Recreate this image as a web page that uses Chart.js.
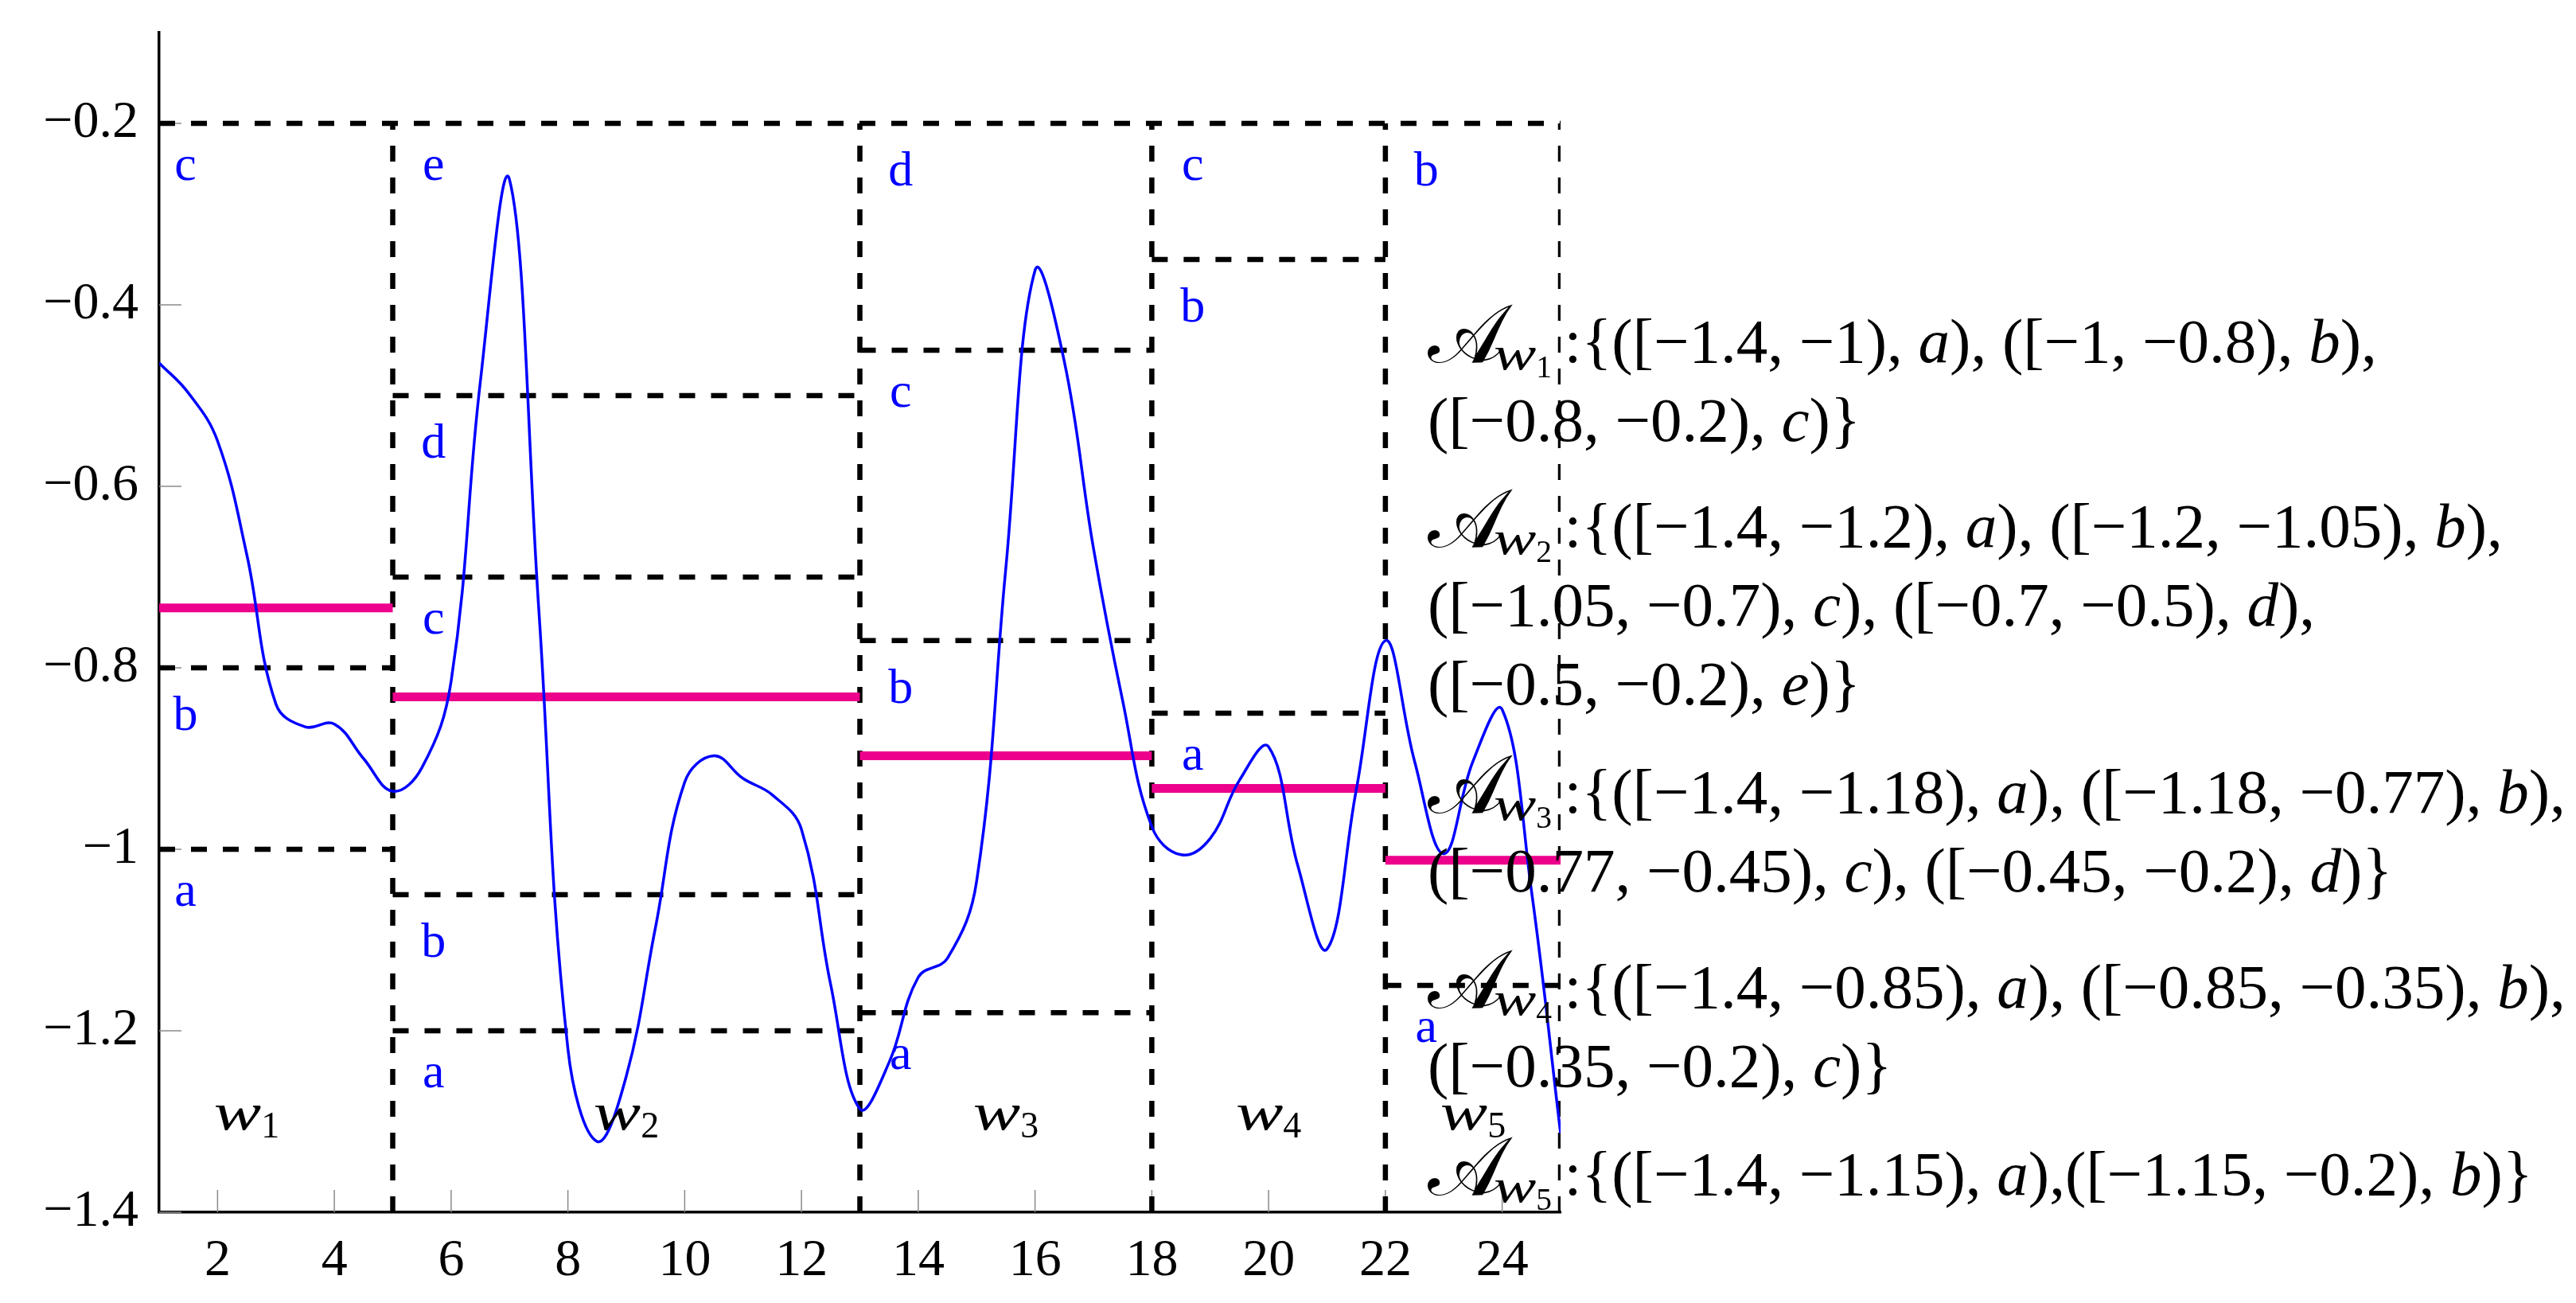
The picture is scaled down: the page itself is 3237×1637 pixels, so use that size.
<!DOCTYPE html>
<html>
<head>
<meta charset="utf-8">
<script src="https://cdn.jsdelivr.net/npm/chart.js"></script>
<style>
  html, body { margin: 0; padding: 0; background: #fff; }
</style>
</head>
<body>
<canvas id="grafica" width="3237" height="1637"></canvas>
<script>
// serie temporal (leida cada medio paso)
const tiempos = [1, 1.5, 2, 2.5, 3, 3.5, 4, 4.5, 5, 5.5, 6, 6.5, 7, 7.5, 8, 8.5, 9, 9.5, 10, 10.5, 11, 11.5, 12, 12.5,
    13, 13.5, 14, 14.5, 15, 15.5, 16, 16.5, 17, 17.5, 18, 18.5, 19, 19.5, 20, 20.5, 21, 21.5, 22, 22.5, 23, 23.5, 24, 24.5, 25]
const valores = [-0.464, -0.497, -0.550, -0.675, -0.840, -0.865, -0.862, -0.900, -0.936, -0.910, -0.815, -0.485, -0.262,
    -0.734, -1.220, -1.322, -1.250, -1.086, -0.926, -0.897, -0.922, -0.940, -0.978, -1.149, -1.286, -1.235, -1.141, -1.120,
    -1.035, -0.690, -0.362, -0.462, -0.668, -0.836, -0.975, -1.006, -0.988, -0.924, -0.887, -1.018, -1.110, -0.935, -0.770,
    -0.903, -1.005, -0.903, -0.846, -1.045, -1.313]

// ventanas, medias (PAA) y cortes de cada alfabeto
const bordes = [1, 5, 13, 18, 22, 25]
const medias = [-0.734, -0.832, -0.897, -0.933, -1.012]
const cortes = [[-1, -0.8], [-1.2, -1.05, -0.7, -0.5], [-1.18, -0.77, -0.45], [-0.85, -0.35], [-1.15]]
const simbolos = [["a", "b", "c"], ["a", "b", "c", "d", "e"], ["a", "b", "c", "d"], ["a", "b", "c"], ["a", "b"]]
const limiteInf = -1.4
const limiteSup = -0.2
const simboloX = [1.45, 5.7, 13.7, 18.7, 22.7]
const ventanaX = [2.5, 9, 15.5, 20, 23.5]
const ventanaY = -1.3

const ticksX = [2, 4, 6, 8, 10, 12, 14, 16, 18, 20, 22, 24]
const ticksY = [-1.4, -1.2, -1, -0.8, -0.6, -0.4, -0.2]

const textoDerecha = [
    ["𝒜_1:{([−1.4, −1), *a*), ([−1, −0.8), *b*),", "([−0.8, −0.2), *c*)}"],
    ["𝒜_2:{([−1.4, −1.2), *a*), ([−1.2, −1.05), *b*),", "([−1.05, −0.7), *c*), ([−0.7, −0.5), *d*),", "([−0.5, −0.2), *e*)}"],
    ["𝒜_3:{([−1.4, −1.18), *a*), ([−1.18, −0.77), *b*),", "([−0.77, −0.45), *c*), ([−0.45, −0.2), *d*)}"],
    ["𝒜_4:{([−1.4, −0.85), *a*), ([−0.85, −0.35), *b*),", "([−0.35, −0.2), *c*)}"],
    ["𝒜_5:{([−1.4, −1.15), *a*),([−1.15, −0.2), *b*)}"]
]
const baseGrupos = [414, 646, 980, 1225, 1460]

const fuente = '"Liberation Serif", "DejaVu Serif", serif'

// puntos de la curva
const puntosCurva = tiempos.map((t, i) => ({ x: t, y: valores[i] }))

// segmentos de la media por ventana
const puntosMedia = []
medias.forEach((m, i) => {
    puntosMedia.push({ x: bordes[i], y: m }, { x: bordes[i + 1], y: m }, { x: bordes[i + 1], y: null })
})

// rejilla discontinua de cada ventana
const puntosRejilla = [{ x: bordes[0], y: limiteSup }, { x: bordes[bordes.length - 1], y: limiteSup }, { x: 25, y: null }]
cortes.forEach((lista, i) => {
    lista.forEach(c => {
        puntosRejilla.push({ x: bordes[i], y: c }, { x: bordes[i + 1], y: c }, { x: bordes[i + 1], y: null })
    })
})
bordes.slice(1).forEach(b => {
    puntosRejilla.push({ x: b, y: limiteInf }, { x: b, y: limiteSup }, { x: b, y: null })
})

function menos(v) {
    return (v < 0 ? "−" : "") + Math.abs(v)
}

// w ancha, como la italica matematica del original
function dibujarW(ctx, x, base, size) {
    ctx.font = `italic ${size}px ${fuente}`
    const ancho = ctx.measureText("w").width * 1.35
    ctx.save()
    ctx.translate(x, base)
    ctx.scale(1.35, 1)
    ctx.fillText("w", 0, 0)
    ctx.restore()
    return ancho
}

function escribir(ctx, texto, x0, base, t) {
    let x = x0
    let italica = false
    const letras = Array.from(texto)
    for (let i = 0; i < letras.length; i++) {
        const c = letras[i]
        if (c === "*") { italica = !italica; continue }
        if (c === "𝒜") {
            ctx.font = `${t * 1.3}px ${fuente}`
            ctx.fillText("𝒜", x, base)
            continue
        }
        if (c === "_") {
            let xs = x0 + t * 1.05
            xs += dibujarW(ctx, xs, base + t * 0.12, t * 0.75)
            ctx.font = `${t * 0.5}px ${fuente}`
            ctx.fillText(letras[i + 1], xs, base + t * 0.24)
            x = x0 + t * 2.17
            i++
            continue
        }
        ctx.font = `${italica ? "italic " : ""}${t}px ${fuente}`
        ctx.fillText(c, x, base)
        x += ctx.measureText(c).width
    }
}

const anotaciones = {
    id: "anotaciones",
    beforeDatasetsDraw(chart) {
        const { ctx, chartArea, scales: { x, y } } = chart
        ctx.save()
        ctx.strokeStyle = "#8a8a8a"
        ctx.lineWidth = 1.5
        ctx.beginPath()
        ticksX.forEach(v => {
            const px = x.getPixelForValue(v)
            ctx.moveTo(px, chartArea.bottom)
            ctx.lineTo(px, chartArea.bottom - 28)
        })
        ticksY.forEach(v => {
            const py = y.getPixelForValue(v)
            ctx.moveTo(chartArea.left, py)
            ctx.lineTo(chartArea.left + 28, py)
        })
        ctx.stroke()
        ctx.restore()
    },
    afterDatasetsDraw(chart) {
        const { ctx, chartArea, scales: { x, y } } = chart
        ctx.save()

        // letras del alfabeto
        ctx.fillStyle = "#0000ff"
        ctx.textAlign = "center"
        ctx.textBaseline = "alphabetic"
        ctx.font = `62px ${fuente}`
        simbolos.forEach((lista, i) => {
            const limites = [limiteInf, ...cortes[i], limiteSup]
            lista.forEach((s, j) => {
                const m = ctx.measureText(s)
                const py = y.getPixelForValue(limites[j + 1] - 0.05)
                ctx.fillText(s, x.getPixelForValue(simboloX[i]), py + (m.actualBoundingBoxAscent - m.actualBoundingBoxDescent) / 2)
            })
        })

        // etiquetas de ventana
        ctx.fillStyle = "#000"
        ctx.textAlign = "left"
        ventanaX.forEach((v, i) => {
            ctx.font = `italic 66px ${fuente}`
            const anchoW = ctx.measureText("w").width * 1.35
            ctx.font = `46px ${fuente}`
            const anchoN = ctx.measureText(String(i + 1)).width
            const px = x.getPixelForValue(v) - (anchoW + anchoN) / 2
            const base = y.getPixelForValue(ventanaY) + 10
            dibujarW(ctx, px, base, 66)
            ctx.font = `46px ${fuente}`
            ctx.fillText(String(i + 1), px + anchoW, base + 10)
        })

        // definicion de alfabetos
        const x0 = chartArea.right - 167
        textoDerecha.forEach((grupo, g) => {
            grupo.forEach((linea, k) => {
                escribir(ctx, linea, x0, chartArea.top + baseGrupos[g] + k * 99, 79)
            })
        })
        ctx.restore()
    }
}

new Chart(document.getElementById("grafica"), {
    type: "line",
    data: {
        datasets: [
            {
                data: puntosCurva,
                borderColor: "#0000ff",
                borderWidth: 3.5,
                pointRadius: 0,
                tension: 0.4,
                fill: false
            },
            {
                data: puntosMedia,
                borderColor: "#ec008c",
                borderWidth: 11,
                pointRadius: 0,
                spanGaps: false,
                fill: false
            },
            {
                data: puntosRejilla,
                borderColor: "#000",
                borderWidth: 6.5,
                borderDash: [20, 20],
                borderCapStyle: "butt",
                pointRadius: 0,
                spanGaps: false,
                clip: 0,
                fill: false
            }
        ]
    },
    options: {
        responsive: false,
        animation: false,
        devicePixelRatio: 1,
        layout: { padding: { top: 41, right: 1276, bottom: 0, left: 0 } },
        plugins: { legend: { display: false }, tooltip: { enabled: false } },
        scales: {
            x: {
                type: "linear",
                min: 1,
                max: 25,
                afterBuildTicks: s => { s.ticks = ticksX.map(v => ({ value: v })) },
                afterFit: s => { s.height = 114; s.paddingLeft = 0; s.paddingRight = 0 },
                grid: { display: false, drawTicks: false },
                border: { display: true, color: "#000", width: 3.5 },
                ticks: {
                    color: "#000",
                    padding: 22,
                    maxRotation: 0,
                    autoSkip: false,
                    font: { family: fuente, size: 66 },
                    callback: v => menos(v)
                }
            },
            y: {
                type: "linear",
                min: -1.4,
                max: -0.1,
                afterBuildTicks: s => { s.ticks = ticksY.map(v => ({ value: v })) },
                afterFit: s => { s.width = 200; s.paddingTop = 0; s.paddingBottom = 0 },
                grid: { display: false, drawTicks: false },
                border: { display: true, color: "#000", width: 3.5 },
                ticks: {
                    color: "#000",
                    padding: 26,
                    autoSkip: false,
                    font: { family: fuente, size: 66 },
                    callback: v => menos(v)
                }
            }
        }
    },
    plugins: [anotaciones]
})
</script>
</body>
</html>
